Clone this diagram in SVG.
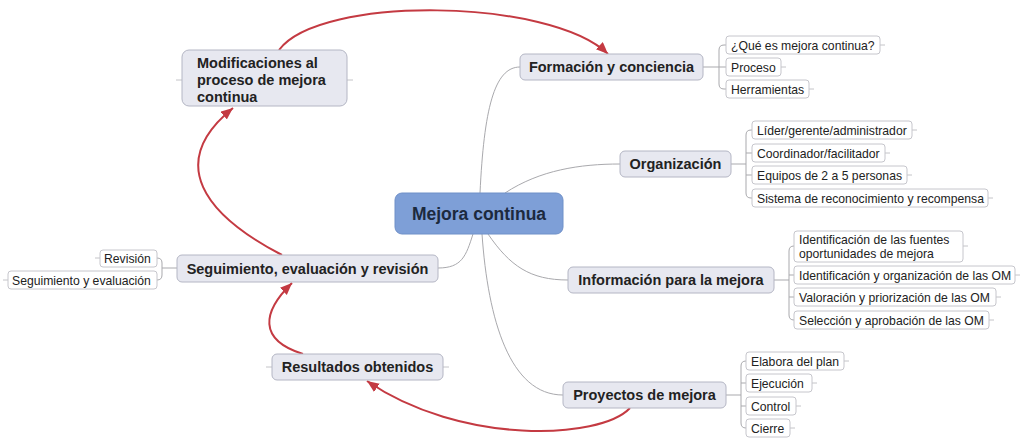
<svg xmlns="http://www.w3.org/2000/svg" width="1024" height="444" viewBox="0 0 1024 444">
<style>
.main{fill:#e7e8f0;stroke:#b4b6c4;stroke-width:1}
.center{fill:#7e9fd7;stroke:#6f90c8;stroke-width:1}
.sub{fill:#ffffff;stroke:#c6c6cc;stroke-width:1}
.mt{font-family:"Liberation Sans",Arial,sans-serif;font-weight:bold;font-size:14.5px;fill:#222;text-anchor:middle}
.ct{font-family:"Liberation Sans",Arial,sans-serif;font-weight:bold;font-size:17.5px;fill:#1c2a3e;text-anchor:middle}
.st{font-family:"Liberation Sans",Arial,sans-serif;font-size:12.2px;fill:#222}
.conn{fill:none;stroke:#a9a9ad;stroke-width:1}
.stub{fill:none;stroke:#c4c4c8;stroke-width:1}
.rel{fill:none;stroke:#c43a42;stroke-width:2}
</style>
<defs>
<marker id="ah" markerUnits="userSpaceOnUse" markerWidth="14" markerHeight="12" refX="12" refY="5" orient="auto">
<path d="M0,0 L12,5 L0,10 Z" fill="#c43a42"/>
</marker>
</defs>
<rect width="1024" height="444" fill="#ffffff"/>

<g id="connectors">
<path class="conn" d="M480,193 C484,110 494,67 520,67"/>
<path class="conn" d="M505,193 C540,170 580,164 620,164"/>
<path class="conn" d="M488,234 C510,266 530,280 568,280"/>
<path class="conn" d="M482,234 C488,320 510,395 563,395"/>
<path class="conn" d="M473,234 C466,256 462,268 438,268"/>
<path class="conn" d="M703,67 H719 M726,45 H724 Q719,45 719,50 V84 Q719,89 724,89 H726 M719,67 H726"/>
<path class="conn" d="M731,164 H746 M752,130 H751 Q746,130 746,135 V193 Q746,198 751,198 H752 M746,153 H752 M746,175 H752"/>
<path class="conn" d="M774,280 H789 M794,246 H794 Q789,246 789,251 V315 Q789,320 794,320 M789,275 H794 M789,297 H794"/>
<path class="conn" d="M726,395 H741 M746,361 H746 Q741,361 741,366 V423 Q741,428 746,428 M741,383 H746 M741,406 H746"/>
<path class="conn" d="M177,268 H162 M157,258 Q162,258 162,263 V275 Q162,280 157,280"/>
<path class="stub" d="M880,45 H885 M781,67 H786 M809,89 H814 M912,130 H917 M885,153 H890 M907,175 H912 M988,198 H993 M963,246 H968 M1015,275 H1020 M996,297 H1001 M989,320 H994 M844,361 H849 M812,383 H817 M796,406 H801 M790,428 H795 M100,258 H95 M8,280 H3 M182,80 H176 M347,80 H353 M443,367 H449 M272,367 H266"/>
<path class="rel" marker-end="url(#ah)" d="M279,50 C320,-5 550,-2 608,54"/>
<path class="rel" marker-end="url(#ah)" d="M282,255 C205,215 165,163 233,108"/>
<path class="rel" marker-end="url(#ah)" d="M303,354 C258,340 262,312 292,283"/>
<path class="rel" marker-end="url(#ah)" d="M630,408 C600,440 460,445 367,381"/>
</g>

<g id="n-mod">
<rect class="main" x="182" y="50" width="165" height="56" rx="7"/>
<text class="mt" style="text-anchor:start" x="197" y="68">Modificaciones al</text>
<text class="mt" style="text-anchor:start" x="197" y="85">proceso de mejora</text>
<text class="mt" style="text-anchor:start" x="197" y="102">continua</text>
</g>
<g id="n-form">
<rect class="main" x="520" y="54" width="183" height="26" rx="5"/>
<text class="mt" x="611.5" y="72">Formación y conciencia</text>
</g>
<g id="n-form-1"><rect class="sub" x="726" y="36" width="154" height="18" rx="3"/><text class="st" x="731" y="49.5">¿Qué es mejora continua?</text></g>
<g id="n-form-2"><rect class="sub" x="726" y="58" width="55" height="18" rx="3"/><text class="st" x="731" y="71.5">Proceso</text></g>
<g id="n-form-3"><rect class="sub" x="726" y="80" width="83" height="18" rx="3"/><text class="st" x="731" y="93.5">Herramientas</text></g>

<g id="n-org">
<rect class="main" x="620" y="151" width="111" height="26" rx="5"/>
<text class="mt" x="675.5" y="169">Organización</text>
</g>
<g id="n-org-1"><rect class="sub" x="752" y="121" width="160" height="18" rx="3"/><text class="st" x="757" y="134.5">Líder/gerente/administrador</text></g>
<g id="n-org-2"><rect class="sub" x="752" y="144" width="133" height="18" rx="3"/><text class="st" x="757" y="157.5">Coordinador/facilitador</text></g>
<g id="n-org-3"><rect class="sub" x="752" y="166" width="155" height="18" rx="3"/><text class="st" x="757" y="179.5">Equipos de 2 a 5 personas</text></g>
<g id="n-org-4"><rect class="sub" x="752" y="189" width="236" height="18" rx="3"/><text class="st" x="757" y="202.5">Sistema de reconocimiento y recompensa</text></g>

<g id="n-center">
<rect class="center" x="395" y="193" width="168" height="41" rx="7"/>
<text class="ct" x="479" y="220">Mejora continua</text>
</g>

<g id="n-info">
<rect class="main" x="568" y="267" width="206" height="26" rx="5"/>
<text class="mt" x="671" y="285">Información para la mejora</text>
</g>
<g id="n-info-1"><rect class="sub" x="794" y="231" width="169" height="31" rx="3"/><text class="st" x="799" y="244">Identificación de las fuentes</text><text class="st" x="799" y="258">oportunidades de mejora</text></g>
<g id="n-info-2"><rect class="sub" x="794" y="266" width="221" height="18" rx="3"/><text class="st" x="799" y="279.5">Identificación y organización de las OM</text></g>
<g id="n-info-3"><rect class="sub" x="794" y="288" width="202" height="18" rx="3"/><text class="st" x="799" y="301.5">Valoración y priorización de las OM</text></g>
<g id="n-info-4"><rect class="sub" x="794" y="311" width="195" height="18" rx="3"/><text class="st" x="799" y="324.5">Selección y aprobación de las OM</text></g>

<g id="n-proy">
<rect class="main" x="563" y="382" width="163" height="26" rx="5"/>
<text class="mt" x="644.5" y="400">Proyectos de mejora</text>
</g>
<g id="n-proy-1"><rect class="sub" x="746" y="352" width="98" height="18" rx="3"/><text class="st" x="751" y="365.5">Elabora del plan</text></g>
<g id="n-proy-2"><rect class="sub" x="746" y="374" width="66" height="18" rx="3"/><text class="st" x="751" y="387.5">Ejecución</text></g>
<g id="n-proy-3"><rect class="sub" x="746" y="397" width="50" height="18" rx="3"/><text class="st" x="751" y="410.5">Control</text></g>
<g id="n-proy-4"><rect class="sub" x="746" y="419" width="44" height="18" rx="3"/><text class="st" x="751" y="432.5">Cierre</text></g>

<g id="n-seg">
<rect class="main" x="177" y="255" width="261" height="27" rx="5"/>
<text class="mt" x="307.5" y="273.5">Seguimiento, evaluación y revisión</text>
</g>
<g id="n-seg-1"><rect class="sub" x="100" y="250" width="57" height="17" rx="3"/><text class="st" x="104" y="263">Revisión</text></g>
<g id="n-seg-2"><rect class="sub" x="8" y="271" width="149" height="18" rx="3"/><text class="st" x="12" y="284.5">Seguimiento y evaluación</text></g>

<g id="n-res">
<rect class="main" x="272" y="354" width="171" height="26" rx="5"/>
<text class="mt" x="357.5" y="372">Resultados obtenidos</text>
</g>
</svg>
